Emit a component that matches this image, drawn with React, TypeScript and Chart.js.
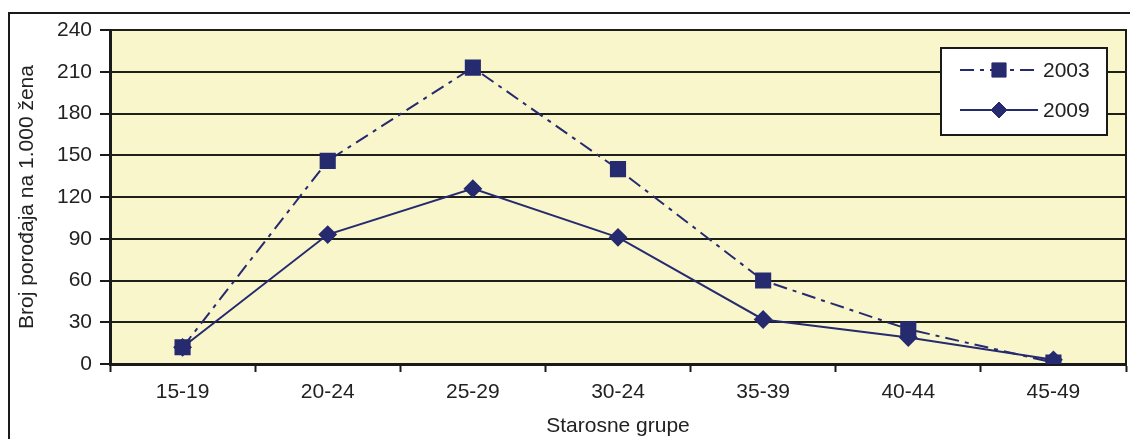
import React, { useEffect, useRef } from "react";
import { Chart, registerables } from "chart.js";

Chart.register(...registerables);

// Age groups and births per 1,000 women
const ageGroups = ["15-19", "20-24", "25-29", "30-24", "35-39", "40-44", "45-49"];
const births2003 = [12, 146, 213, 140, 60, 25, 1];
const births2009 = [12, 93, 126, 91, 32, 19, 3];
const seriesLabels = ["2003", "2009"];
const yTitle = "Broj porođaja na 1.000 žena";
const xTitle = "Starosne grupe";

const NAVY = "#262a6e";
const TEXT = "#222222";
const FONT = "'Liberation Sans', Arial, sans-serif";
const FS = 21;

const framePlugin = {
  id: "frame",
  beforeDraw(chart: any) {
    const { ctx, chartArea } = chart;
    ctx.save();
    ctx.fillStyle = "#ffffff";
    ctx.fillRect(0, 0, chart.width, chart.height);
    // outer frame
    ctx.strokeStyle = "#1a1a1a";
    ctx.lineWidth = 2;
    ctx.strokeRect(9, 13, chart.width + 20, chart.height + 20);
    // plot background
    ctx.fillStyle = "#faf6cc";
    ctx.fillRect(chartArea.left, chartArea.top, chartArea.right - chartArea.left, chartArea.bottom - chartArea.top);
    ctx.restore();
  },
  beforeDatasetsDraw(chart: any) {
    const { ctx, chartArea } = chart;
    // right edge of the plot area
    ctx.save();
    ctx.strokeStyle = "#1a1a1a";
    ctx.lineWidth = 2;
    ctx.beginPath();
    ctx.moveTo(chartArea.right, chartArea.top - 1);
    ctx.lineTo(chartArea.right, chartArea.bottom);
    ctx.stroke();
    ctx.restore();
  },
  afterDraw(chart: any) {
    const { ctx } = chart;
    const bx = 941, by = 48, bw = 166, bh = 87;
    ctx.save();
    ctx.fillStyle = "#ffffff";
    ctx.fillRect(bx, by, bw, bh);
    ctx.strokeStyle = "#1a1a1a";
    ctx.lineWidth = 2;
    ctx.strokeRect(bx, by, bw, bh);
    const rows = [by + 22, by + 62];
    chart.data.datasets.forEach((ds: any, i: number) => {
      const y = rows[i];
      ctx.save();
      ctx.strokeStyle = ds.borderColor;
      ctx.lineWidth = ds.borderWidth;
      ctx.setLineDash(ds.borderDash || []);
      ctx.beginPath();
      ctx.moveTo(960, y);
      ctx.lineTo(1038, y);
      ctx.stroke();
      ctx.restore();
      ctx.save();
      ctx.fillStyle = ds.pointBackgroundColor;
      ctx.strokeStyle = ds.pointBorderColor;
      ctx.lineWidth = 1;
      const r = ds.pointRadius;
      ctx.beginPath();
      if (ds.pointStyle === "rect") {
        const s = r * Math.SQRT1_2;
        ctx.rect(999 - s, y - s, 2 * s, 2 * s);
      } else {
        ctx.moveTo(999, y - r);
        ctx.lineTo(999 + r, y);
        ctx.lineTo(999, y + r);
        ctx.lineTo(999 - r, y);
        ctx.closePath();
      }
      ctx.fill();
      ctx.stroke();
      ctx.restore();
      ctx.fillStyle = TEXT;
      ctx.font = `${FS}px ${FONT}`;
      ctx.textBaseline = "middle";
      ctx.textAlign = "left";
      ctx.fillText(ds.label, 1043, y + 1);
    });
    ctx.restore();
  },
};

export default function App() {
  const ref = useRef<HTMLCanvasElement | null>(null);

  useEffect(() => {
    if (!ref.current) return;
    const chart = new Chart(ref.current, {
      type: "line",
      data: {
        labels: ageGroups,
        datasets: [
          {
            label: seriesLabels[0],
            data: births2003,
            borderColor: NAVY,
            borderWidth: 2,
            borderDash: [14, 6, 4, 6],
            pointStyle: "rect",
            pointRadius: 10,
            pointBackgroundColor: NAVY,
            pointBorderColor: NAVY,
            tension: 0,
            order: 0,
          },
          {
            label: seriesLabels[1],
            data: births2009,
            borderColor: NAVY,
            borderWidth: 2,
            pointStyle: "rectRot",
            pointRadius: 8,
            pointBackgroundColor: NAVY,
            pointBorderColor: NAVY,
            tension: 0,
            order: 1,
          },
        ],
      },
      options: {
        animation: false,
        responsive: false,
        maintainAspectRatio: false,
        layout: { autoPadding: false, padding: { top: 30, right: 4, left: 0, bottom: 0 } },
        plugins: {
          legend: { display: false },
          tooltip: { enabled: false },
        },
        scales: {
          x: {
            type: "category",
            offset: true,
            afterFit: (s: any) => {
              s.height = 75;
              s.paddingLeft = 0;
              s.paddingRight = 0;
            },
            grid: {
              offset: true,
              drawOnChartArea: false,
              drawTicks: true,
              tickLength: 8,
              tickWidth: 2,
              tickColor: "#1a1a1a",
            },
            border: { display: true, width: 3, color: "#1a1a1a" },
            ticks: {
              color: TEXT,
              padding: 8,
              font: { family: FONT, size: FS },
              maxRotation: 0,
            },
            title: {
              display: true,
              text: xTitle,
              color: TEXT,
              font: { family: FONT, size: FS },
              padding: { top: 0, bottom: 0 },
            },
          },
          y: {
            min: 0,
            max: 240,
            afterFit: (s: any) => {
              s.width = 110;
            },
            grid: {
              color: "#1f1f1a",
              lineWidth: 2,
              drawTicks: true,
              tickLength: 10,
              tickWidth: 2,
              tickColor: "#1a1a1a",
            },
            border: { display: true, width: 3, color: "#1a1a1a" },
            ticks: {
              stepSize: 30,
              color: TEXT,
              padding: 8,
              font: { family: FONT, size: FS },
            },
            title: {
              display: true,
              text: yTitle,
              color: TEXT,
              font: { family: FONT, size: FS },
              padding: { top: 15, bottom: 0 },
            },
          },
        },
      },
      plugins: [framePlugin],
    } as any);
    return () => chart.destroy();
  }, []);

  return (
    <div style={{ position: "absolute", left: 0, top: 0, width: 1130, height: 439 }}>
      <canvas ref={ref} width={1130} height={439} style={{ display: "block" }} />
    </div>
  );
}
